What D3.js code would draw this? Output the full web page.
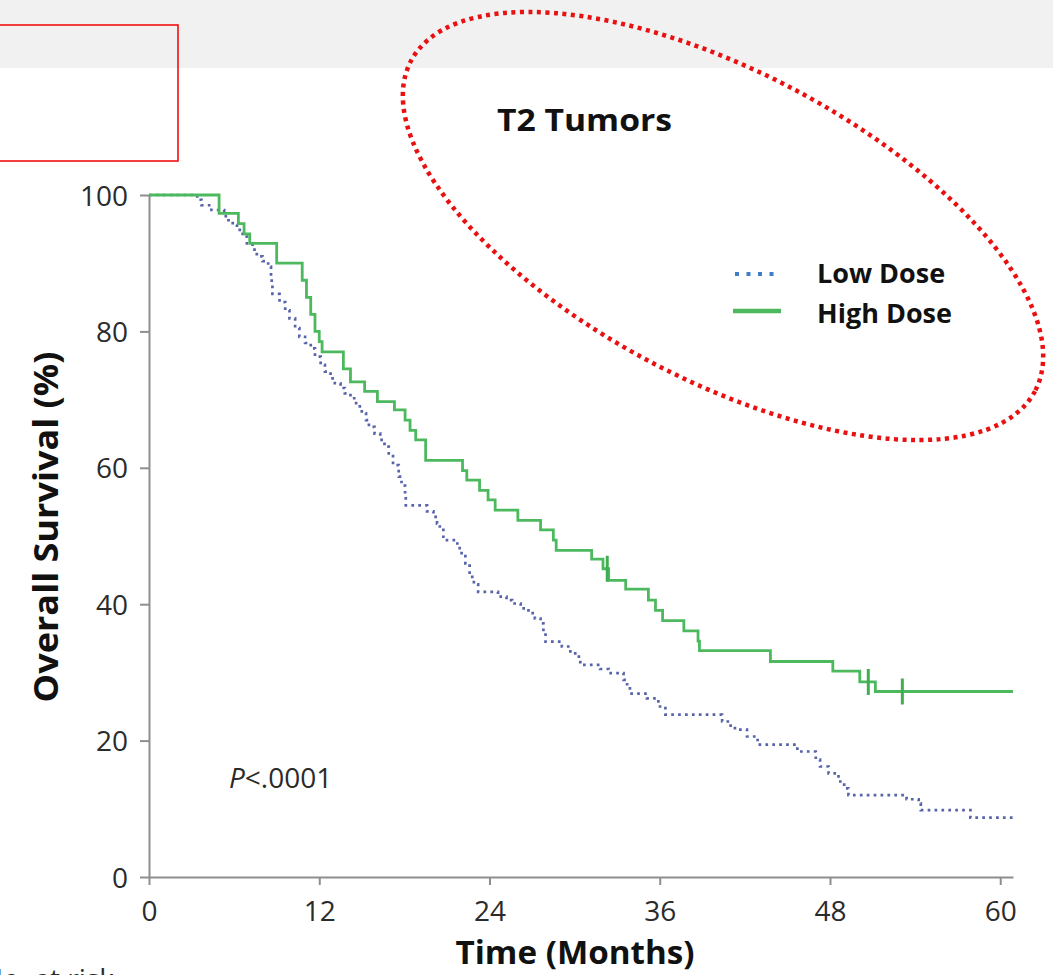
<!DOCTYPE html>
<html><head><meta charset="utf-8">
<script src="https://cdn.jsdelivr.net/npm/d3@7"></script>
<style>body{margin:0;background:#fff;overflow:hidden}svg{display:block}</style>
</head><body>
<script>
// ---------- data ----------
const timeTicks = [0, 12, 24, 36, 48, 60];
const survTicks = [0, 20, 40, 60, 80, 100];
const seriesNames = ["Low Dose", "High Dose"];
const chartTitle = "T2 Tumors";
const pValueLabel = ".0001";
const followUpEnd = 60.9;

const lowDoseTime = [0,3.4,3.7,4.4,5.3,5.6,5.9,6.2,6.6,6.9,7.3,7.6,8.0,8.4,8.6,8.65,8.7,9.2,9.6,9.9,10.3,10.6,11.0,11.4,11.7,12.1,12.4,12.8,13.1,13.5,13.8,14.2,14.6,15.0,15.3,15.5,15.9,16.3,16.6,16.9,17.2,17.6,17.8,18.05,18.1,19.6,20.05,20.3,20.5,20.75,21.6,21.9,22.3,22.6,22.9,23.2,24.6,25.2,25.6,26.2,26.75,27.2,27.6,27.8,27.95,29.1,29.7,30.3,30.4,31.8,32.4,33.45,33.7,33.9,35.1,35.9,36.4,40.4,40.9,41.3,42.15,42.9,45.7,47.0,47.3,47.9,48.6,49.0,49.3,53.4,54.25,54.4,57.9];
const lowDoseSurv = [100,99.3,98.5,97.8,96.9,96.3,95.6,94.9,93.9,92.9,92.0,91.0,90.3,89.5,88.0,86.8,85.5,84.3,83.1,81.9,80.5,79.2,78.3,77.5,76.3,75.1,74.1,73.1,72.4,71.7,70.9,70.2,69.0,68.0,67.0,66.0,65.0,64.1,63.1,62.1,60.4,58.7,57.4,56.2,54.5,53.6,52.8,51.8,50.9,49.4,48.9,47.5,46.0,44.0,42.9,41.8,41.1,40.6,40.1,39.4,38.7,37.9,37.2,35.8,34.5,33.8,32.8,31.8,31.1,30.5,29.9,28.9,27.9,26.9,26.2,25.0,23.8,22.8,22.2,21.6,20.6,19.4,18.4,17.2,16.2,15.2,14.0,13.0,12.0,11.4,10.8,9.8,8.7];

const highDoseTime = [0,4.94,6.3,6.7,7.1,9.0,10.8,11.1,11.4,11.7,12.0,12.2,13.7,14.2,15.2,16.1,17.3,18.05,18.4,18.8,19.5,22.1,22.4,23.3,23.9,24.4,26.0,27.6,28.5,28.7,31.2,32.0,32.4,33.6,35.2,35.7,36.2,37.7,38.7,38.8,43.8,48.2,50.1,51.2];
const highDoseSurv = [100,97.3,95.8,94.3,92.9,90.0,87.5,85.0,82.5,80.0,78.5,77.0,74.5,72.6,71.2,69.7,68.5,67.0,65.5,64.1,61.1,59.6,58.2,56.7,55.3,53.8,52.3,50.9,49.4,47.9,46.6,45.2,43.5,42.2,40.6,39.1,37.6,36.1,34.6,33.2,31.6,30.2,28.6,27.2];
const highDoseCensorTime = [32.3, 50.7, 53.1];

// ---------- layout ----------
const W = 1053, H = 975;
const svg = d3.select("body").append("svg").attr("width", W).attr("height", H);

svg.append("rect").attr("x",0).attr("y",0).attr("width",W).attr("height",68).attr("fill","#f1f1f1");
svg.append("rect").attr("x",-5).attr("y",25).attr("width",183).attr("height",136)
  .attr("fill","none").attr("stroke","#f01010").attr("stroke-width",1.6);

const x = d3.scaleLinear().domain([0, followUpEnd]).range([149, 1013]);
const y = d3.scaleLinear().domain([0, 100]).range([877, 195]);

const font = "'Open Sans', 'DejaVu Sans', sans-serif";
const axisColor = "#8e8e8e";

const yAxis = svg.append("g").attr("transform","translate(149,0)")
  .call(d3.axisLeft(y).tickValues(survTicks).tickSize(9).tickSizeOuter(0).tickPadding(12));
const xAxis = svg.append("g").attr("transform","translate(0,877)")
  .call(d3.axisBottom(x).tickValues(timeTicks).tickSize(8).tickSizeOuter(0));
[yAxis, xAxis].forEach(g => {
  g.select(".domain").attr("stroke", axisColor).attr("stroke-width", 2);
  g.selectAll(".tick line").attr("stroke", axisColor).attr("stroke-width", 2);
  g.selectAll("text").attr("font-family", font).attr("font-size", 28).attr("fill", "#2b2b2b");
});
xAxis.selectAll(".tick text").attr("y", 44).attr("dy", null);
yAxis.selectAll(".tick text").attr("dy", "0.36em");

function steps(times, survs) {
  const pts = times.map((t, i) => [t, survs[i]]);
  pts.push([followUpEnd, survs[survs.length - 1]]);
  return pts;
}
const line = d3.line().x(d => x(d[0])).y(d => y(d[1])).curve(d3.curveStepAfter);

svg.append("path").datum(steps(lowDoseTime, lowDoseSurv)).attr("d", line)
  .attr("fill","none").attr("stroke","#5864aa").attr("stroke-width",2.7)
  .attr("stroke-dasharray","2.7 4.2");

svg.append("path").datum(steps(highDoseTime, highDoseSurv)).attr("d", line)
  .attr("fill","none").attr("stroke","#4cb95e").attr("stroke-width",2.8);

function survAt(t) {
  let v = highDoseSurv[0];
  highDoseTime.forEach((tt, i) => { if (tt <= t) v = highDoseSurv[i]; });
  return v;
}
svg.selectAll(".censor").data(highDoseCensorTime).join("line")
  .attr("x1", d => x(d)).attr("x2", d => x(d))
  .attr("y1", d => y(survAt(d)) - 13).attr("y2", d => y(survAt(d)) + 13)
  .attr("stroke","#3fae50").attr("stroke-width",3);

const pt = svg.append("text").attr("x",229).attr("y",788).attr("font-family",font)
  .attr("font-size",28).attr("fill","#2b2b2b");
pt.append("tspan").attr("font-style","italic").text("P");
pt.append("tspan").text("<" + pValueLabel);

svg.append("text").attr("x",497).attr("y",131).attr("font-family",font).attr("font-weight",700)
  .attr("font-size",31).attr("fill","#111").attr("textLength",175).attr("lengthAdjust","spacingAndGlyphs")
  .text(chartTitle);

const lg = svg.append("g");
lg.append("line").attr("x1",735).attr("x2",778).attr("y1",274).attr("y2",274)
  .attr("stroke","#3f7ec4").attr("stroke-width",4).attr("stroke-dasharray","4 7.5");
lg.append("line").attr("x1",733).attr("x2",781).attr("y1",311).attr("y2",311)
  .attr("stroke","#4cb95e").attr("stroke-width",4.5);
lg.selectAll(".lt").data(seriesNames).join("text")
  .attr("x",817).attr("y",(d,i)=>283 + i*40).attr("font-family",font).attr("font-weight",700)
  .attr("font-size",27).attr("fill","#111").text(d=>d);

svg.append("text").attr("transform","translate(58,527) rotate(-90)").attr("text-anchor","middle")
  .attr("font-family",font).attr("font-weight",700).attr("font-size",34).attr("fill","#111")
  .attr("textLength",351).attr("lengthAdjust","spacingAndGlyphs").text("Overall Survival (%)");
svg.append("text").attr("x",575).attr("y",964).attr("text-anchor","middle")
  .attr("font-family",font).attr("font-weight",700).attr("font-size",32).attr("fill","#111")
  .attr("textLength",239).attr("lengthAdjust","spacingAndGlyphs").text("Time (Months)");

svg.append("text").attr("x",-18).attr("y",989).attr("font-family",font).attr("font-size",28)
  .attr("fill","#2b2b2b").text("No. at risk");

svg.append("ellipse").attr("cx",723).attr("cy",226).attr("rx",353).attr("ry",154)
  .attr("transform","rotate(27.9,723,226)").attr("fill","none")
  .attr("stroke","#e81010").attr("stroke-width",4.5).attr("stroke-dasharray","4 4.5");
</script>
</body></html>
